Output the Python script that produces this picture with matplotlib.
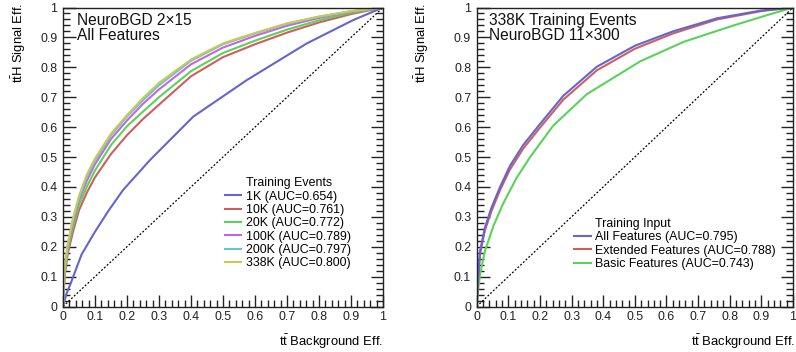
import numpy as np
import matplotlib
matplotlib.use('Agg')
import matplotlib.pyplot as plt
from matplotlib.ticker import MultipleLocator

plt.rcParams['font.family'] = ['Liberation Sans', 'DejaVu Sans']
plt.rcParams['mathtext.fontset'] = 'custom'
plt.rcParams['mathtext.rm'] = 'Liberation Sans'

#%% data

# left panel: NeuroBGD 2x15, all features, varying training events
fpr_grid = [0, 0.005, 0.015, 0.03, 0.05, 0.075, 0.1, 0.15, 0.2, 0.25, 0.3,
            0.4, 0.5, 0.6, 0.7, 0.8, 0.9, 1.0]

tpr_10k = [0, 0.10, 0.178, 0.245, 0.322, 0.382, 0.432, 0.51, 0.573, 0.627, 0.675,
           0.77, 0.834, 0.877, 0.916, 0.95, 0.978, 1.0]
tpr_20k = [0, 0.11, 0.19, 0.262, 0.34, 0.402, 0.455, 0.54, 0.603, 0.652, 0.70,
           0.787, 0.848, 0.889, 0.926, 0.957, 0.982, 1.0]
tpr_100k = [0, 0.12, 0.20, 0.276, 0.356, 0.422, 0.476, 0.56, 0.622, 0.678, 0.726,
            0.81, 0.866, 0.905, 0.939, 0.965, 0.986, 1.0]
tpr_200k = [0, 0.125, 0.205, 0.284, 0.364, 0.434, 0.488, 0.572, 0.635, 0.69, 0.74,
            0.822, 0.877, 0.913, 0.945, 0.969, 0.987, 1.0]
tpr_338k = [0, 0.13, 0.21, 0.29, 0.37, 0.442, 0.495, 0.578, 0.64, 0.697, 0.748,
            0.826, 0.88, 0.915, 0.947, 0.97, 0.988, 1.0]

fpr_1k = [0, 0.01, 0.025, 0.058, 0.1, 0.142, 0.188, 0.272, 0.407, 0.574, 0.762, 0.907, 1.0]
tpr_1k = [0, 0.04, 0.08, 0.174, 0.25, 0.32, 0.39, 0.49, 0.635, 0.757, 0.88, 0.958, 1.0]

left_labels = ['1K (AUC=0.654)', '10K (AUC=0.761)', '20K (AUC=0.772)',
               '100K (AUC=0.789)', '200K (AUC=0.797)', '338K (AUC=0.800)']

# right panel: 338K events, NeuroBGD 11x300, different inputs
fpr_all = [0, 0.004, 0.0105, 0.026, 0.047, 0.074, 0.105, 0.147, 0.2, 0.274, 0.38,
           0.5, 0.62, 0.76, 0.9, 1.0]
tpr_all = [0, 0.09, 0.185, 0.264, 0.331, 0.40, 0.47, 0.54, 0.61, 0.705, 0.802,
           0.872, 0.92, 0.964, 0.99, 1.0]
tpr_ext = [0, 0.085, 0.175, 0.255, 0.32, 0.39, 0.458, 0.528, 0.598, 0.692, 0.79,
           0.862, 0.913, 0.96, 0.988, 1.0]

fpr_basic = [0, 0.004, 0.0105, 0.026, 0.053, 0.084, 0.126, 0.169, 0.242, 0.348,
             0.517, 0.654, 0.812, 0.92, 1.0]
tpr_basic = [0, 0.05, 0.107, 0.185, 0.27, 0.345, 0.43, 0.50, 0.605, 0.71,
             0.82, 0.885, 0.94, 0.975, 1.0]

right_labels = ['All Features (AUC=0.795)', 'Extended Features (AUC=0.788)',
                'Basic Features (AUC=0.743)']

tick_vals = [0, 0.1, 0.2, 0.3, 0.4, 0.5, 0.6, 0.7, 0.8, 0.9, 1.0]
tick_text = ['0', '0.1', '0.2', '0.3', '0.4', '0.5', '0.6', '0.7', '0.8', '0.9', '1']

c_blue = '#6464d2'
c_red = '#cd5f5f'
c_green = '#5ad25a'
c_mag = '#c864dc'
c_cyan = '#64c8c8'
c_yel = '#c8c85a'

#%% figure

fig = plt.figure(figsize=(7.96, 3.52), dpi=100)
ax1 = fig.add_axes([63/796, 1 - 306.5/352, 320/796, 299/352])
ax2 = fig.add_axes([476.7/796, 1 - 306.5/352, 316.3/796, 299/352])


def style_axis(ax):
    ax.set_xlim(0, 1)
    ax.set_ylim(0, 1)
    ax.xaxis.set_minor_locator(MultipleLocator(0.02))
    ax.yaxis.set_minor_locator(MultipleLocator(0.02))
    ax.set_xticks(tick_vals)
    ax.set_xticklabels(tick_text)
    ax.set_yticks(tick_vals)
    ax.set_yticklabels(tick_text)
    ax.tick_params(which='both', direction='in', top=False, right=True,
                   labelsize=8.9, width=1, colors='#222222')
    ax.tick_params(which='major', length=9)
    ax.tick_params(which='minor', length=5)
    ax.tick_params(axis='x', pad=3.5)
    ax.tick_params(axis='y', pad=4)
    for s in ax.spines.values():
        s.set_linewidth(1)
        s.set_color('#222222')
    ax.plot([0, 1], [0, 1], color='black', linestyle=(0, (1.5, 1.5)), linewidth=0.9)


style_axis(ax1)
style_axis(ax2)

lw = 1.5
ax1.plot(fpr_1k, tpr_1k, color=c_blue, lw=lw, label=left_labels[0])
ax1.plot(fpr_grid, tpr_10k, color=c_red, lw=lw, label=left_labels[1])
ax1.plot(fpr_grid, tpr_20k, color=c_green, lw=lw, label=left_labels[2])
ax1.plot(fpr_grid, tpr_100k, color=c_mag, lw=lw, label=left_labels[3])
ax1.plot(fpr_grid, tpr_200k, color=c_cyan, lw=lw, label=left_labels[4])
ax1.plot(fpr_grid, tpr_338k, color=c_yel, lw=lw, label=left_labels[5])

ax2.plot(fpr_basic, tpr_basic, color=c_green, lw=lw, label=right_labels[2])
ax2.plot(fpr_all, tpr_ext, color=c_red, lw=lw, label=right_labels[1])
ax2.plot(fpr_all, tpr_all, color=c_blue, lw=lw, label=right_labels[0])

# legends with the header as an empty entry
h1, l1 = ax1.get_legend_handles_labels()
head1, = ax1.plot([], [], color='none')
ax1.legend([head1] + h1, ['Training Events'] + l1, loc='upper left',
           bbox_to_anchor=(0.506, 0.432), frameon=False, fontsize=8.9,
           handlelength=1.3, handletextpad=0.4, labelspacing=0.11,
           borderpad=0, borderaxespad=0)

h2, l2 = ax2.get_legend_handles_labels()
head2, = ax2.plot([], [], color='none')
ax2.legend([head2, h2[2], h2[1], h2[0]], ['Training Input', l2[2], l2[1], l2[0]],
           loc='upper left', bbox_to_anchor=(0.308, 0.296), frameon=False,
           fontsize=8.9, handlelength=1.4, handletextpad=0.3, labelspacing=0.11,
           borderpad=0, borderaxespad=0)

ax1.text(0.043, 0.958, 'NeuroBGD 2\u00d715', transform=ax1.transAxes, fontsize=11.2,
         va='center', ha='left', color='#111111')
ax1.text(0.043, 0.905, 'All Features', transform=ax1.transAxes, fontsize=11.2,
         va='center', ha='left', color='#111111')
ax2.text(0.04, 0.958, '338K Training Events', transform=ax2.transAxes, fontsize=11.2,
         va='center', ha='left', color='#111111')
ax2.text(0.04, 0.905, 'NeuroBGD 11\u00d7300', transform=ax2.transAxes, fontsize=11.2,
         va='center', ha='left', color='#111111')

ylab = r'$\mathrm{t\bar{t}}$H Signal Eff.'
xlab = r'$\mathrm{t\bar{t}}$ Background Eff.'
fig.text(19/796, 1 - 3/352, ylab, rotation=90, ha='center', va='top', fontsize=9.4)
fig.text(422/796, 1 - 3/352, ylab, rotation=90, ha='center', va='top', fontsize=9.4)
fig.text(383/796, 1 - 341.5/352, xlab, ha='right', va='center', fontsize=9.4)
fig.text(795/796, 1 - 341.5/352, xlab, ha='right', va='center', fontsize=9.4)

fig.savefig('out.png', dpi=100)
